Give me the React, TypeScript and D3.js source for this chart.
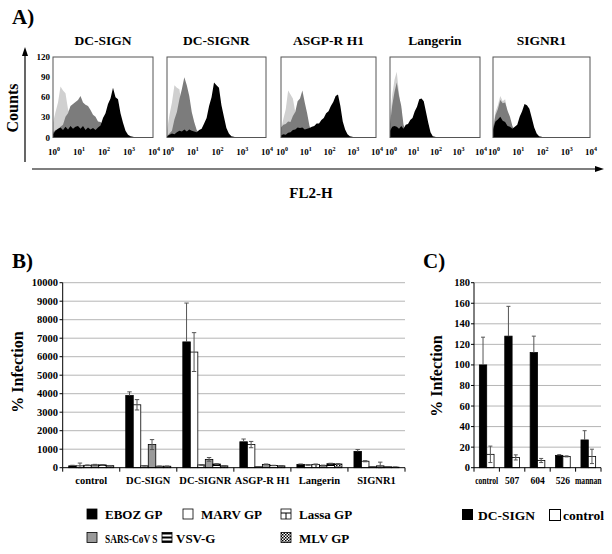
import React from "react";
import * as d3 from "d3";

const FONT = "Liberation Serif";

// ---------- A) flow cytometry histograms (bins of 0.1 decade, 10^0 .. 10^4) ----------
const histTitles = ["DC-SIGN", "DC-SIGNR", "ASGP-R H1", "Langerin", "SIGNR1"];
const countTicks = [0, 30, 60, 90, 120];
const decades = [0, 1, 2, 3, 4];

const lightCounts = [
  [22, 38, 52, 76, 70, 66, 42, 33, 20, 19, 13, 15, 11, 10, 8, 7, 6, 5, 4, 3, 2, 2, 1],
  [10, 34, 52, 78, 74, 72, 46, 33, 14, 9, 5, 3, 2, 1],
  [12, 28, 42, 70, 64, 58, 38, 16, 11, 6, 4, 3, 2, 1],
  [30, 64, 86, 98, 66, 42, 14, 7, 3, 2, 1],
  [15, 38, 48, 62, 54, 57, 38, 26, 11, 6, 3, 2, 1],
];
const midCounts = [
  [8, 11, 12, 16, 19, 31, 36, 47, 50, 53, 56, 62, 52, 49, 47, 41, 34, 31, 24, 23, 19, 17, 14, 12, 10, 7, 5, 3, 2, 1],
  [2, 6, 10, 27, 38, 57, 72, 90, 78, 62, 38, 23, 11, 6, 3, 2, 1],
  [15, 19, 20, 24, 23, 32, 38, 54, 58, 70, 52, 36, 17, 8, 4, 2, 1],
  [20, 48, 68, 82, 62, 47, 19, 9, 4, 3, 2, 1],
  [12, 33, 42, 56, 51, 52, 40, 31, 17, 10, 5, 3, 2, 1],
];
const darkCounts = [
  [5, 10, 13, 15, 11, 16, 12, 17, 13, 16, 17, 13, 17, 11, 15, 12, 14, 11, 15, 18, 29, 36, 50, 58, 74, 60, 57, 36, 22, 10, 4, 2, 1],
  [2, 4, 6, 5, 8, 10, 9, 12, 9, 12, 10, 9, 8, 11, 13, 21, 29, 47, 60, 82, 78, 74, 48, 31, 14, 6, 2, 1],
  [3, 5, 4, 7, 8, 11, 12, 15, 14, 15, 12, 13, 14, 16, 17, 21, 21, 26, 29, 36, 39, 47, 53, 62, 64, 47, 24, 12, 5, 2, 1],
  [10, 16, 17, 16, 13, 17, 13, 19, 20, 26, 29, 39, 46, 57, 58, 54, 38, 22, 8, 2, 1],
  [12, 24, 27, 31, 25, 23, 17, 16, 13, 16, 19, 31, 39, 50, 48, 43, 29, 15, 6, 2, 1],
];

// ---------- B) infection by receptor ----------
const categoriesB = ["control", "DC-SIGN", "DC-SIGNR", "ASGP-R H1", "Langerin", "SIGNR1"];
const seriesB = ["EBOZ GP", "MARV GP", "Lassa GP", "SARS-CoV S", "VSV-G", "MLV GP"];
const ebozGP = [100, 3900, 6800, 1400, 180, 880];
const ebozErr = [30, 200, 2100, 150, 20, 100];
const marvGP = [100, 3400, 6250, 1250, 150, 350];
const marvErr = [150, 280, 1050, 170, 20, 30];
const lassaGP = [130, 100, 150, 50, 180, 50];
const lassaErr = [20, 10, 20, 10, 20, 10];
const sarsS = [150, 1250, 450, 180, 120, 100];
const sarsErr = [30, 270, 100, 20, 20, 200];
const vsvG = [150, 80, 200, 120, 220, 50];
const vsvErr = [20, 10, 20, 10, 20, 10];
const mlvGP = [110, 80, 100, 100, 200, 30];
const mlvErr = [10, 10, 10, 10, 20, 5];
const ticksB = d3.range(0, 10001, 1000);

// ---------- C) inhibition ----------
const categoriesC = ["control", "507", "604", "526", "mannan"];
const dcSign = [100, 128, 112, 12, 27];
const dcSignErr = [27, 29, 16, 0.7, 9];
const controlC = [13, 10, 7, 11, 11];
const controlErr = [8, 2.5, 2, 0.5, 7];
const ticksC = d3.range(0, 181, 20);

// layout
const boxes = [
  [53, 153],
  [167, 266],
  [281, 376],
  [390, 480],
  [493, 590],
];
const histTop = 57;
const histBottom = 137.5;
const plotTop = 282.7;
const plotBottom = 467.7;

const fills = ["#000", "#fff", "url(#lassa)", "#9a9a9a", "url(#vsv)", "url(#mlv)"];

const Sup = ({ x, y, k }: { x: number; y: number; k: number }) => (
  <text x={x} y={y} textAnchor="middle" fontSize={9}>
    10<tspan dy={-4} fontSize={6}>{k}</tspan>
  </text>
);

const Histogram = ({ i }: { i: number }) => {
  const [x0, x1] = boxes[i];
  const x = d3.scaleLinear().domain([0, 4]).range([x0, x1]);
  const y = d3.scaleLinear().domain([0, 120]).range([histBottom, histTop]);
  const bins = d3.range(0, 41);
  const area = (arr: number[]) =>
    d3
      .area<number>()
      .x((b) => x(b * 0.1))
      .y0(histBottom)
      .y1((b) => y(arr[b] || 0))(bins) || "";
  return (
    <g>
      <clipPath id={`clip${i}`}>
        <rect x={x0} y={histTop} width={x1 - x0} height={histBottom - histTop} />
      </clipPath>
      <g clipPath={`url(#clip${i})`}>
        <path d={area(lightCounts[i])} fill="#d0d0d0" />
        <path d={area(midCounts[i])} fill="#7c7c7c" />
        <path d={area(darkCounts[i])} fill="#000" />
      </g>
      <rect x={x0} y={histTop} width={x1 - x0} height={histBottom - histTop} fill="none" stroke="#555" strokeWidth={1} />
      <text x={(x0 + x1) / 2} y={45} textAnchor="middle" fontSize={13.5}>
        {histTitles[i]}
      </text>
      {decades.map((k) => (
        <Sup key={k} x={x(k) + 1} y={155} k={k} />
      ))}
      {i === 0 &&
        countTicks.map((c) => (
          <text key={c} x={50} y={y(c) + 3} textAnchor="end" fontSize={9}>
            {c}
          </text>
        ))}
    </g>
  );
};

const ErrorBar = ({ x, yTop, yBot, capBot, w }: { x: number; yTop: number; yBot: number; capBot: boolean; w: number }) => (
  <g stroke="#555" strokeWidth={1}>
    <line x1={x} x2={x} y1={yTop} y2={yBot} />
    <line x1={x - w} x2={x + w} y1={yTop} y2={yTop} />
    {capBot && <line x1={x - w} x2={x + w} y1={yBot} y2={yBot} />}
  </g>
);

const PanelB = () => {
  const x = d3.scaleBand().domain(categoriesB).range([62.7, 405]);
  const inner = d3.scaleBand().domain(seriesB).range([0, x.bandwidth()]).paddingOuter(0.8);
  const y = d3.scaleLinear().domain([0, 10000]).range([plotBottom, plotTop]);
  const values = [ebozGP, marvGP, lassaGP, sarsS, vsvG, mlvGP];
  const errs = [ebozErr, marvErr, lassaErr, sarsErr, vsvErr, mlvErr];
  return (
    <g>
      <text x={12} y={268} fontSize={21}>B)</text>
      {ticksB.map((t) => (
        <g key={t}>
          {t > 0 && <line x1={62.7} x2={405} y1={y(t)} y2={y(t)} stroke="#b5b5b5" strokeWidth={1} />}
          <line x1={59.5} x2={62.7} y1={y(t)} y2={y(t)} stroke="#000" />
          <text x={58} y={y(t) + 3.5} textAnchor="end" fontSize={10.5}>{t}</text>
        </g>
      ))}
      {categoriesB.map((c, ci) =>
        seriesB.map((s, si) => {
          const bx = (x(c) || 0) + (inner(s) || 0);
          const v = values[si][ci];
          const e = errs[si][ci];
          const cx = bx + inner.bandwidth() / 2;
          return (
            <g key={c + s}>
              <rect x={bx} y={y(v)} width={inner.bandwidth()} height={plotBottom - y(v)} fill={fills[si]} stroke="#000" strokeWidth={0.8} />
              <ErrorBar x={cx} yTop={y(v + e)} yBot={si === 0 ? y(v) : y(Math.max(0, v - e))} capBot={si !== 0} w={2.2} />
            </g>
          );
        })
      )}
      <line x1={62.7} x2={62.7} y1={plotTop} y2={plotBottom} stroke="#000" />
      <line x1={62.7} x2={405} y1={plotBottom} y2={plotBottom} stroke="#000" />
      {[...categoriesB.map((c) => x(c) || 0), 405].map((d, i) => (
        <line key={i} x1={d} x2={d} y1={plotBottom} y2={plotBottom + 4} stroke="#000" />
      ))}
      {categoriesB.map((c) => (
        <text key={c} x={(x(c) || 0) + x.bandwidth() / 2} y={484} textAnchor="middle" fontSize={10.5}>
          {c}
        </text>
      ))}
      <text transform={`translate(23,372) rotate(-90)`} textAnchor="middle" fontSize={16}>% Infection</text>
    </g>
  );
};

const PanelC = () => {
  const x = d3.scaleBand().domain(categoriesC).range([474, 601]);
  const inner = d3.scaleBand().domain(["DC-SIGN", "control"]).range([0, x.bandwidth()]).paddingOuter(0.73);
  const y = d3.scaleLinear().domain([0, 180]).range([plotBottom, plotTop]);
  const values = [dcSign, controlC];
  const errs = [dcSignErr, controlErr];
  return (
    <g>
      <text x={423} y={268} fontSize={21}>C)</text>
      {ticksC.map((t) => (
        <g key={t}>
          {t > 0 && <line x1={474} x2={601} y1={y(t)} y2={y(t)} stroke="#b5b5b5" strokeWidth={1} />}
          <line x1={471} x2={474} y1={y(t)} y2={y(t)} stroke="#000" />
          <text x={470} y={y(t) + 3.5} textAnchor="end" fontSize={10.5}>{t}</text>
        </g>
      ))}
      {categoriesC.map((c, ci) =>
        ["DC-SIGN", "control"].map((s, si) => {
          const bx = (x(c) || 0) + (inner(s) || 0);
          const v = values[si][ci];
          const e = errs[si][ci];
          return (
            <g key={c + s}>
              <rect x={bx} y={y(v)} width={inner.bandwidth()} height={plotBottom - y(v)} fill={si === 0 ? "#000" : "#fff"} stroke="#000" strokeWidth={0.8} />
              <ErrorBar x={bx + inner.bandwidth() / 2} yTop={y(v + e)} yBot={si === 0 ? y(v) : y(Math.max(0, v - e))} capBot={si !== 0} w={2} />
            </g>
          );
        })
      )}
      <line x1={474} x2={474} y1={plotTop} y2={plotBottom} stroke="#000" />
      <line x1={474} x2={601} y1={plotBottom} y2={plotBottom} stroke="#000" />
      {[...categoriesC.map((c) => x(c) || 0), 601].map((d, i) => (
        <line key={i} x1={d} x2={d} y1={plotBottom} y2={plotBottom + 4} stroke="#000" />
      ))}
      {categoriesC.map((c) => (
        <text
          key={c}
          transform={`translate(${(x(c) || 0) + x.bandwidth() / 2},484) scale(${c.length > 3 ? 0.8 : 1},1)`}
          textAnchor="middle"
          fontSize={9.5}
        >
          {c}
        </text>
      ))}
      <text transform={`translate(442,376) rotate(-90)`} textAnchor="middle" fontSize={16}>% Infection</text>
      <rect x={462} y={509} width={11} height={11} fill="#000" />
      <text x={478} y={520} fontSize={13.5}>DC-SIGN</text>
      <rect x={549.5} y={509.5} width={11} height={11} fill="#fff" stroke="#000" />
      <text x={563} y={520} fontSize={13.5}>control</text>
    </g>
  );
};

const legendPos = [
  [87, 509],
  [183, 509],
  [281, 509],
  [87, 532.5],
  [162, 532.5],
  [281, 532.5],
];
// the reference squeezes the long label so it fits before the next swatch
const legendSquash = [1, 1, 1, 0.72, 1, 1];

const LegendB = () => (
  <g>
    {seriesB.map((s, i) => {
      const [lx, ly] = legendPos[i];
      return (
        <g key={s}>
          <rect x={lx} y={ly} width={10} height={10} fill={i === 2 || i === 4 ? "#fff" : fills[i]} stroke="#000" strokeWidth={0.8} />
          {i === 2 && (
            <g stroke="#000" strokeWidth={1}>
              <line x1={lx} x2={lx + 10} y1={ly + 4} y2={ly + 4} />
              <line x1={lx + 5} x2={lx + 5} y1={ly + 4} y2={ly + 10} />
            </g>
          )}
          {i === 4 && (
            <g fill="#000">
              <rect x={lx} y={ly} width={10} height={2} />
              <rect x={lx} y={ly + 4} width={10} height={2} />
              <rect x={lx} y={ly + 8} width={10} height={2} />
            </g>
          )}
          <text
            transform={`translate(${lx + (i === 4 ? 14 : 18)},${ly + 10}) scale(${legendSquash[i]},1)`}
            fontSize={13}
          >
            {s}
          </text>
        </g>
      );
    })}
  </g>
);

export default function App() {
  return (
    <svg
      width={612}
      height={554}
      style={{ position: "absolute", left: 0, top: 0, background: "#fff", fontFamily: FONT, fontWeight: "bold" }}
    >
      <defs>
        <pattern id="lassa" patternUnits="userSpaceOnUse" width={8} height={6}>
          <rect width={8} height={6} fill="#fff" />
          <line x1={0} x2={8} y1={0.5} y2={0.5} stroke="#000" strokeWidth={1} />
          <line x1={4} x2={4} y1={0} y2={6} stroke="#000" strokeWidth={1} />
        </pattern>
        <pattern id="vsv" patternUnits="userSpaceOnUse" width={4} height={4}>
          <rect width={4} height={4} fill="#fff" />
          <rect width={4} height={2} fill="#000" />
        </pattern>
        <pattern id="mlv" patternUnits="userSpaceOnUse" width={3} height={3}>
          <rect width={3} height={3} fill="#fff" />
          <rect width={1.5} height={1.5} fill="#000" />
          <rect x={1.5} y={1.5} width={1.5} height={1.5} fill="#000" />
        </pattern>
      </defs>
      <rect width={612} height={554} fill="#fff" />
      <g>
        <text x={12} y={24} fontSize={21}>A)</text>
        <line x1={25} x2={25} y1={162} y2={54} stroke="#000" strokeWidth={1.2} />
        <polygon points="25,47 22,56 28,56" fill="#000" />
        <line x1={32} x2={596} y1={169} y2={169} stroke="#000" strokeWidth={1.2} />
        <polygon points="604,169 595,166 595,172" fill="#000" />
        <text transform="translate(18,108) rotate(-90)" textAnchor="middle" fontSize={16}>Counts</text>
        <text x={311} y={198} textAnchor="middle" fontSize={15}>FL2-H</text>
      </g>
      {histTitles.map((_, i) => (
        <Histogram key={i} i={i} />
      ))}
      <PanelB />
      <PanelC />
      <LegendB />
    </svg>
  );
}
